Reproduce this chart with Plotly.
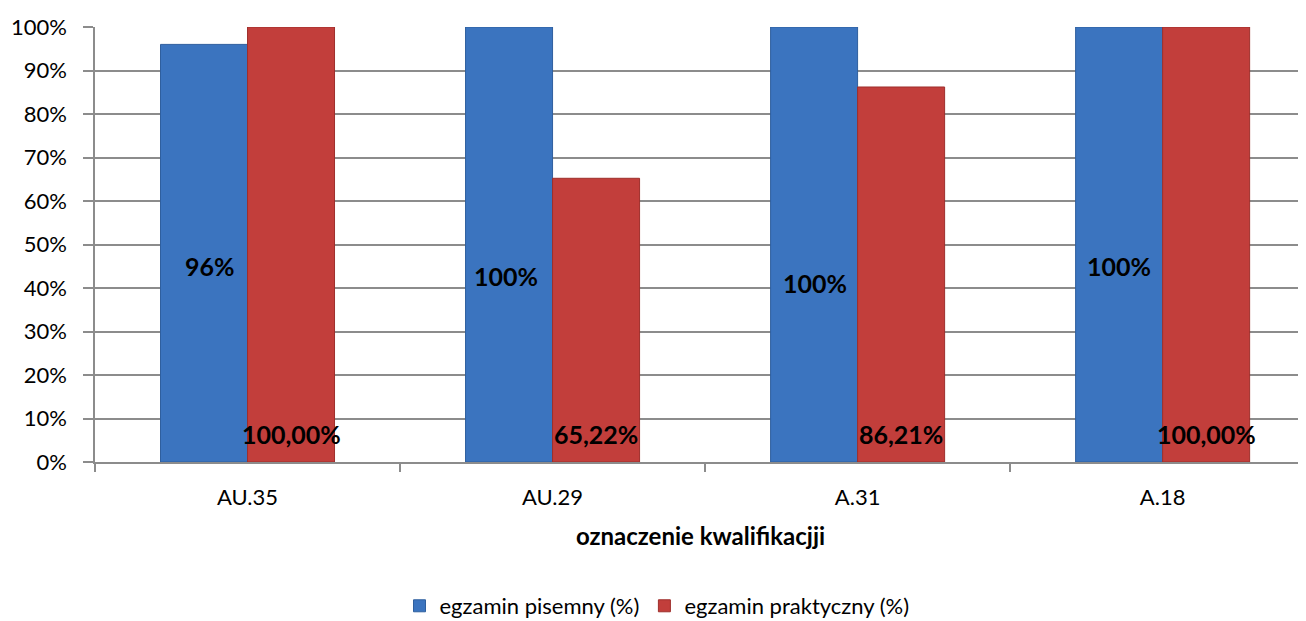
import plotly.graph_objects as go

categories = ["AU.35", "AU.29", "A.31", "A.18"]
pisemny = [0.96, 1.00, 1.00, 1.00]
praktyczny = [1.00, 0.6522, 0.8621, 1.00]
pisemny_labels = ["96%", "100%", "100%", "100%"]
praktyczny_labels = ["100,00%", "65,22%", "86,21%", "100,00%"]
y_ticks = [0, 0.1, 0.2, 0.3, 0.4, 0.5, 0.6, 0.7, 0.8, 0.9, 1.0]
y_tick_text = ["0%", "10%", "20%", "30%", "40%", "50%", "60%", "70%", "80%", "90%", "100%"]

# label placement (style)
pisemny_label_y = [0.45, 0.428, 0.411, 0.45]
pisemny_label_dx = [6, -3, 1, 0]
praktyczny_label_y = [0.064, 0.064, 0.064, 0.064]

FONT = "Lato, 'Open Sans', sans-serif"
BLUE = "#3B74BF"
RED = "#C23E3B"
GRID = "#8C8C8C"

fig = go.Figure()
fig.add_trace(go.Bar(
    x=categories, y=pisemny, name="egzamin pisemny (%)",
    marker=dict(color=BLUE, line=dict(color="#2F5F9E", width=1)),
))
fig.add_trace(go.Bar(
    x=categories, y=praktyczny, name="egzamin praktyczny (%)",
    marker=dict(color=RED, line=dict(color="#9E2F2C", width=1)),
))

bar_px = 87
annotations = []
for i, c in enumerate(categories):
    annotations.append(dict(x=c, y=pisemny_label_y[i], xref="x", yref="y",
                            text=pisemny_labels[i], showarrow=False,
                            xshift=-bar_px / 2 + pisemny_label_dx[i],
                            font=dict(family=FONT, size=25, color="black", weight="bold")))
    annotations.append(dict(x=c, y=praktyczny_label_y[i], xref="x", yref="y",
                            text=praktyczny_labels[i], showarrow=False,
                            xshift=bar_px / 2,
                            font=dict(family=FONT, size=25, color="black", weight="bold")))

fig.update_layout(
    width=1298, height=613,
    margin=dict(l=87, r=0, t=19, b=159, autoexpand=False),
    paper_bgcolor="white", plot_bgcolor="white",
    barmode="group", bargap=0.4295, bargroupgap=0,
    font=dict(family=FONT, size=22, color="black"),
    showlegend=True,
    legend=dict(orientation="h", x=0.5, xref="container", xanchor="center",
                y=0.0245, yref="container", yanchor="middle",
                font=dict(family=FONT, size=22, color="black"),
                traceorder="normal", itemwidth=30),
    annotations=annotations,
)
fig.update_xaxes(
    range=[-0.5, 3.47], showline=True, linecolor=GRID, linewidth=1.5,
    ticks="outside", tickson="boundaries", ticklen=8, tickcolor=GRID, tickwidth=1.5,
    showgrid=False, ticklabelstandoff=15, automargin=False,
    tickfont=dict(family=FONT, size=22, color="black"),
    title=dict(text="<b>oznaczenie kwalifikacjji</b>", standoff=19,
               font=dict(family=FONT, size=24, color="black")),
)
fig.update_yaxes(
    range=[0, 1], tickvals=y_ticks, ticktext=y_tick_text,
    showline=True, linecolor=GRID, linewidth=1.5,
    ticks="outside", ticklen=10, tickcolor=GRID, tickwidth=1.5,
    showgrid=True, gridcolor=GRID, gridwidth=1.5, zeroline=False,
    ticklabelstandoff=12, automargin=False,
    tickfont=dict(family=FONT, size=22, color="black"),
)

fig.write_html("out.html")
